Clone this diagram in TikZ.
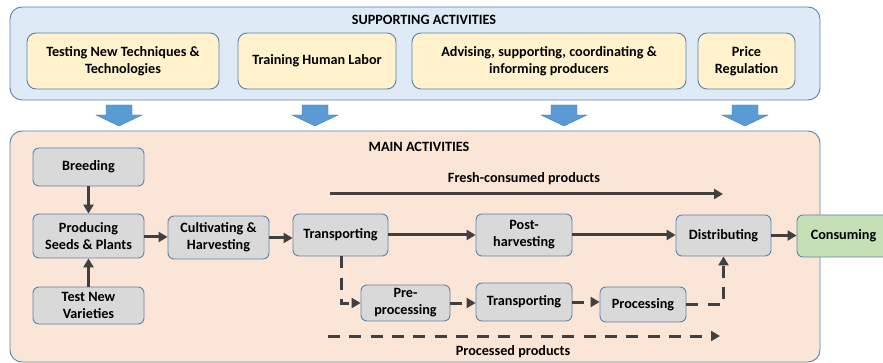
\documentclass[tikz,border=0pt]{standalone}
\usepackage{fontspec}
\setmainfont{Carlito}
\usetikzlibrary{arrows.meta}
\definecolor{supbg}{HTML}{DEEBF7}
\definecolor{yel}{HTML}{FFF2CC}
\definecolor{peach}{HTML}{FBE5D6}
\definecolor{greyf}{HTML}{D9D9D9}
\definecolor{greenf}{HTML}{C5E0B4}
\definecolor{bord}{HTML}{5B82AE}
\definecolor{arr}{HTML}{404040}
\definecolor{blk}{HTML}{5B9BD5}
\tikzset{
  txt/.style={font=\fontsize{14.2}{17}\selectfont\bfseries, align=center, text=black},
  panel/.style={draw=bord, line width=0.9pt, rounded corners=12pt, inner sep=0pt},
  ybox/.style={txt, draw=bord, fill=yel, line width=0.9pt, rounded corners=9pt, inner sep=0pt},
  gbox/.style={txt, draw=bord, fill=greyf, line width=0.9pt, rounded corners=6pt, inner sep=0pt},
  cbox/.style={txt, draw=bord, fill=greenf, line width=0.9pt, rounded corners=6pt, inner sep=0pt},
  flow/.style={draw=arr, line width=3pt, -{Triangle[length=9pt,width=10pt]}},
  dflow/.style={flow, dash pattern=on 12pt off 9.3pt},
  ttl/.style={font=\fontsize{14.2}{17}\selectfont\bfseries, text=black},
  blkarrow/.style={fill=blk, draw=blk!80!black, line width=0.4pt}
}
\begin{document}
\begin{tikzpicture}[x=1pt,y=-1pt]
\useasboundingbox (0,0) rectangle (883,363);
\clip (0,0) rectangle (883,363);
% supporting panel
\node[panel, fill=supbg, minimum width=810pt, minimum height=93pt] (sup) at (415,53.5) {};
\node[ttl] (suptitle) at (424,20) {SUPPORTING ACTIVITIES};
\node[ybox, minimum width=192pt, minimum height=56pt] (s1) at (123,61) {Testing New Techniques \&\\Technologies};
\node[ybox, minimum width=158pt, minimum height=56pt] (s2) at (317,61) {Training Human Labor};
\node[ybox, minimum width=274pt, minimum height=56pt] (s3) at (549,61) {Advising, supporting, coordinating \&\\informing producers};
\node[ybox, minimum width=97pt, minimum height=56pt] (s4) at (746.5,61) {Price\\Regulation};
% block arrows
\foreach \c in {119,315,564,745}{
  \filldraw[blkarrow] (\c-13,105) -- (\c+13,105) -- (\c+13,115) -- (\c+23,115) -- (\c,126) -- (\c-23,115) -- (\c-13,115) -- cycle;
}
% main panel
\node[panel, fill=peach, minimum width=810pt, minimum height=231pt] (main) at (415,246.5) {};
\node[ttl] (maintitle) at (419,147) {MAIN ACTIVITIES};
% nodes
\node[gbox, minimum width=111pt, minimum height=38pt] (breed) at (88.5,167) {Breeding};
\node[gbox, minimum width=111pt, minimum height=44pt] (prod) at (88.5,236) {Producing\\Seeds \& Plants};
\node[gbox, minimum width=111pt, minimum height=37pt] (test) at (88.5,305.5) {Test New\\Varieties};
\node[gbox, minimum width=101pt, minimum height=43pt] (cult) at (218.5,237.5) {Cultivating \&\\Harvesting};
\node[gbox, minimum width=95pt, minimum height=42pt] (tr1) at (340.5,235) {Transporting};
\node[gbox, minimum width=96pt, minimum height=42pt] (post) at (524,235) {Post-\\harvesting};
\node[gbox, minimum width=95pt, minimum height=41pt] (dist) at (723.5,235.5) {Distributing};
\node[cbox, minimum width=93pt, minimum height=42pt] (cons) at (843.5,236) {Consuming};
\node[gbox, minimum width=89pt, minimum height=36pt] (pre) at (405.5,303) {Pre-\\processing};
\node[gbox, minimum width=96pt, minimum height=38pt] (tr2) at (524,302) {Transporting};
\node[gbox, minimum width=86pt, minimum height=35pt] (proc) at (643,304.5) {Processing};
% solid flows
\draw[flow] (breed) -- (prod);
\draw[flow] (test) -- (prod);
\draw[flow] (prod.east |- 0,237) -- (cult.west |- 0,237);
\draw[flow] (cult.east |- 0,238) -- (tr1.west |- 0,238);
\draw[flow] (tr1.east) -- (post.west);
\draw[flow] (post.east) -- (dist.west |- post.east);
\draw[flow] (dist.east) -- (cons.west |- dist.east);
% dashed flows
\draw[dflow] (tr1.south -| 341,0) |- (pre.west);
\draw[dflow] (pre.east) -- (tr2.west |- pre.east);
\draw[dflow] (tr2.east) -- (proc.west |- tr2.east);
\draw[dflow] (proc.east) -| (dist.south);
% legend lines
\coordinate (f1) at (330,194);
\coordinate (f2) at (723,194);
\draw[flow] (f1) -- (f2);
\node[txt] (freshlbl) at (524,179) {Fresh-consumed products};
\coordinate (p1) at (328,336);
\coordinate (p2) at (720,336);
\draw[dflow] (p1) -- (p2);
\node[txt] (proclbl) at (513,352) {Processed products};
\end{tikzpicture}
\end{document}
